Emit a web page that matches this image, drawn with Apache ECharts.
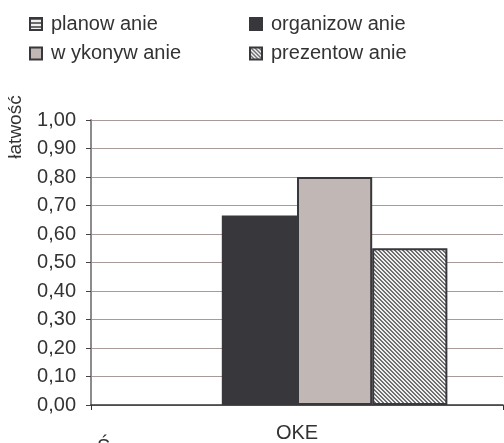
<!DOCTYPE html>
<html>
<head>
<meta charset="utf-8">
<script src="https://cdn.jsdelivr.net/npm/echarts@6/dist/echarts.min.js"></script>
<style>html,body{margin:0;padding:0;background:#fff}#c{width:504px;height:443px}</style>
</head>
<body>
<div id="c"></div>
<script>
const categories = ['OKE'];
const seriesNames = ['planow anie', 'organizow anie', 'w ykonyw anie', 'prezentow anie'];
const planowanie = [null];
const organizowanie = [0.665];
const wykonywanie = [0.80];
const prezentowanie = [0.55];
const yAxisName = 'łatwość';

function pattern(kind) {
  const c = document.createElement('canvas');
  c.width = 4; c.height = 4;
  const g = c.getContext('2d');
  g.fillStyle = '#f0f0f0'; g.fillRect(0, 0, 4, 4);
  g.fillStyle = kind === 'h' ? '#6a6a6a' : '#707070';
  for (let y = 0; y < 4; y++) for (let x = 0; x < 4; x++) {
    if (kind === 'h' && y < 2) g.fillRect(x, y, 1, 1);
    if (kind === 'd' && ((x - y + 8) % 4) < 2) g.fillRect(x, y, 1, 1);
  }
  return { image: c, repeat: 'repeat' };
}

const border = '#38373c';
const font = 'Liberation Sans';
const fs = 20;
const txt = '#333333';
const chart = echarts.init(document.getElementById('c'), null, { renderer: 'canvas' });

const legendPos = [[29, 14], [249, 14], [29, 43.5], [249, 43.5]];
chart.setOption({
  animation: false,
  textStyle: { fontFamily: font },
  legend: seriesNames.map((n, i) => ({
    data: [n], left: legendPos[i][0], top: legendPos[i][1], padding: 0,
    itemWidth: 12, itemHeight: 12, icon: 'rect',
    textStyle: { fontFamily: font, fontSize: fs, color: txt, padding: [0, 0, 0, 4] }
  })),
  grid: { left: 91, right: 1, top: 120, bottom: 37, containLabel: false },
  xAxis: {
    type: 'category', data: categories,
    axisLine: { lineStyle: { color: '#333', width: 1.5 } },
    axisTick: { show: true, length: 5, lineStyle: { color: '#333' } },
    axisLabel: { fontFamily: font, fontSize: fs, color: txt, margin: 18 }
  },
  yAxis: {
    type: 'value', min: 0, max: 1, interval: 0.1,
    axisLine: { show: true, lineStyle: { color: '#8c8c8c', width: 2 } },
    axisTick: { show: true, length: 5, lineStyle: { color: '#444' } },
    axisLabel: { fontFamily: font, fontSize: fs, color: txt, margin: 15,
      formatter: v => v.toFixed(2).replace('.', ',') },
    splitLine: { lineStyle: { color: '#a89a98', width: 1 } }
  },
  graphic: [
    { type: 'text', x: 16, y: 127, rotation: Math.PI / 2,
      style: { text: yAxisName, font: '19px "Liberation Sans"', fill: txt, align: 'center', verticalAlign: 'middle' } },
    { type: 'text', x: 97, y: 437,
      style: { text: 'Ś', font: '20px "Liberation Sans"', fill: txt, align: 'left', verticalAlign: 'top' } }
  ],
  series: [
    { name: seriesNames[0], type: 'bar', data: planowanie, barGap: '0%', barCategoryGap: '27%',
      itemStyle: { color: pattern('h'), borderColor: border, borderWidth: 1.5 } },
    { name: seriesNames[1], type: 'bar', data: organizowanie,
      itemStyle: { color: border, borderColor: border, borderWidth: 1.5 } },
    { name: seriesNames[2], type: 'bar', data: wykonywanie,
      itemStyle: { color: '#c1b8b5', borderColor: border, borderWidth: 2 } },
    { name: seriesNames[3], type: 'bar', data: prezentowanie,
      itemStyle: { color: pattern('d'), borderColor: border, borderWidth: 2 } }
  ]
});
</script>
</body>
</html>
